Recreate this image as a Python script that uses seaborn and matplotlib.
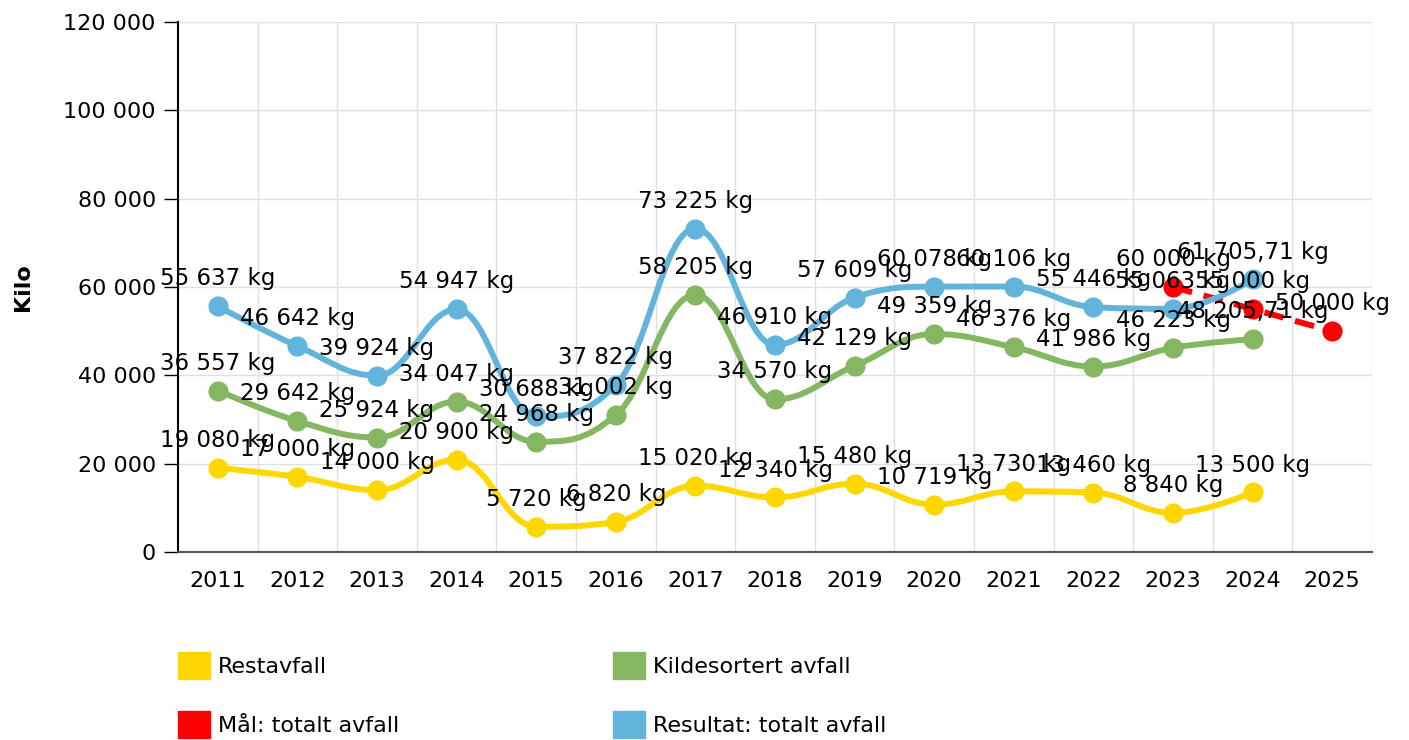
import numpy as np
import pandas as pd
import seaborn as sns
import matplotlib.pyplot as plt
from matplotlib.path import Path
from matplotlib.patches import PathPatch, Patch
from matplotlib.ticker import FuncFormatter

years = list(range(2011, 2026))
rest = [19080, 17000, 14000, 20900, 5720, 6820, 15020, 12340, 15480, 10719, 13730, 13460, 8840, 13500]
kilde = [36557, 29642, 25924, 34047, 24968, 31002, 58205, 34570, 42129, 49359, 46376, 41986, 46223, 48205.71]
total = [55637, 46642, 39924, 54947, 30688, 37822, 73225, 46910, 57609, 60078, 60106, 55446, 55063, 61705.71]
maal_years = [2023, 2024, 2025]
maal = [60000, 55000, 50000]

names = ["Restavfall", "Kildesortert avfall", "Mål: totalt avfall", "Resultat: totalt avfall"]
colors = {"Restavfall": "#ffd700", "Kildesortert avfall": "#85b762",
          "Mål: totalt avfall": "#ff0000", "Resultat: totalt avfall": "#63b4dc"}

sns.set_theme(style="white")
plt.rcParams["font.family"] = ["DejaVu Sans"]
for k in ["text.color", "axes.labelcolor", "xtick.color", "ytick.color"]:
    plt.rcParams[k] = "black"


def spline_path(xs, ys, smoothing=1.5):
    # highcharts-like spline control points
    n = len(xs)
    verts = [(xs[0], ys[0])]
    codes = [Path.MOVETO]
    left = [(xs[i], ys[i]) for i in range(n)]
    right = [(xs[i], ys[i]) for i in range(n)]
    d = smoothing + 1
    for i in range(1, n - 1):
        px, py = xs[i], ys[i]
        lx, ly = xs[i - 1], ys[i - 1]
        nx, ny = xs[i + 1], ys[i + 1]
        lcx = (smoothing * px + lx) / d
        lcy = (smoothing * py + ly) / d
        rcx = (smoothing * px + nx) / d
        rcy = (smoothing * py + ny) / d
        corr = (rcy - lcy) * (rcx - px) / (rcx - lcx) + py - rcy
        lcy += corr
        rcy += corr
        if lcy > ly and lcy > py:
            lcy = max(ly, py); rcy = 2 * py - lcy
        elif lcy < ly and lcy < py:
            lcy = min(ly, py); rcy = 2 * py - lcy
        if rcy > ny and rcy > py:
            rcy = max(ny, py); lcy = 2 * py - rcy
        elif rcy < ny and rcy < py:
            rcy = min(ny, py); lcy = 2 * py - rcy
        left[i] = (lcx, lcy)
        right[i] = (rcx, rcy)
    for i in range(1, n):
        verts += [right[i - 1], left[i], (xs[i], ys[i])]
        codes += [Path.CURVE4] * 3
    return Path(verts, codes)


def fmt_kg(v):
    if float(v).is_integer():
        s = f"{int(v):,}".replace(",", " ")
    else:
        s = f"{v:,.2f}".replace(",", " ").replace(".", ",")
    return s + " kg"


fig = plt.figure(figsize=(14.09, 7.40), dpi=100)
ax = fig.add_axes([178 / 1409, 1 - 552 / 740, 1194 / 1409, 530 / 740])

series = [("Restavfall", years[:14], rest, "-"),
          ("Kildesortert avfall", years[:14], kilde, "-"),
          ("Mål: totalt avfall", maal_years, maal, (0, (3.3, 2))),
          ("Resultat: totalt avfall", years[:14], total, "-")]

z = 3
for name, xs, ys, ls in series:
    patch = PathPatch(spline_path(xs, ys), fill=False, edgecolor=colors[name],
                      linewidth=4.3, linestyle=ls, capstyle="butt", zorder=z)
    ax.add_patch(patch)
    df = pd.DataFrame({"year": xs, "kg": ys, "serie": name})
    sns.scatterplot(data=df, x="year", y="kg", color=colors[name], s=210,
                    linewidth=0, ax=ax, zorder=z + 0.5, legend=False)
    z += 1

for name, xs, ys, ls in series:
    for x, y in zip(xs, ys):
        ax.annotate(fmt_kg(y), (x, y), xytext=(0, 15), textcoords="offset points",
                    ha="center", va="baseline", fontsize=16.5, color="black", zorder=20)

ax.set_xlim(2010.5, 2025.5)
ax.set_ylim(0, 120000)
ax.set_xticks(years)
ax.set_xticklabels([str(y) for y in years], fontsize=16)
ax.set_xticks(np.arange(2011.5, 2025.6, 1), minor=True)
ax.set_yticks(range(0, 120001, 20000))
ax.yaxis.set_major_formatter(FuncFormatter(lambda v, p: f"{int(v):,}".replace(",", " ")))
ax.tick_params(axis="y", labelsize=16, length=10, width=1, color="black", direction="out", pad=6, left=True)
ax.tick_params(axis="x", which="both", length=0, pad=14)
ax.grid(True, which="major", axis="y", color="#e0e0e0", linewidth=1)
ax.grid(True, which="minor", axis="x", color="#e0e0e0", linewidth=1)
ax.set_axisbelow(True)
for side in ["top", "right"]:
    ax.spines[side].set_visible(False)
ax.spines["left"].set_color("black")
ax.spines["left"].set_linewidth(1.5)
ax.spines["bottom"].set_color("#555555")
ax.spines["bottom"].set_linewidth(1.5)
ax.set_xlabel("")
ax.set_ylabel("Kilo", fontsize=16, fontweight="bold", labelpad=22)

legfont = {"family": ["DejaVu Sans"], "size": 16}
col1 = [Patch(color=colors[names[0]], label=names[0]), Patch(color=colors[names[2]], label=names[2])]
col2 = [Patch(color=colors[names[1]], label=names[1]), Patch(color=colors[names[3]], label=names[3])]
for handles, xpx in [(col1, 178), (col2, 613)]:
    fig.legend(handles=handles, loc="upper left", bbox_to_anchor=(xpx / 1409, 1 - 652 / 740),
               frameon=False, borderpad=0, borderaxespad=0, handlelength=1.45, handleheight=1.5,
               handletextpad=0.35, labelspacing=1.42, prop=legfont)

fig.savefig("out.png", dpi=100)
